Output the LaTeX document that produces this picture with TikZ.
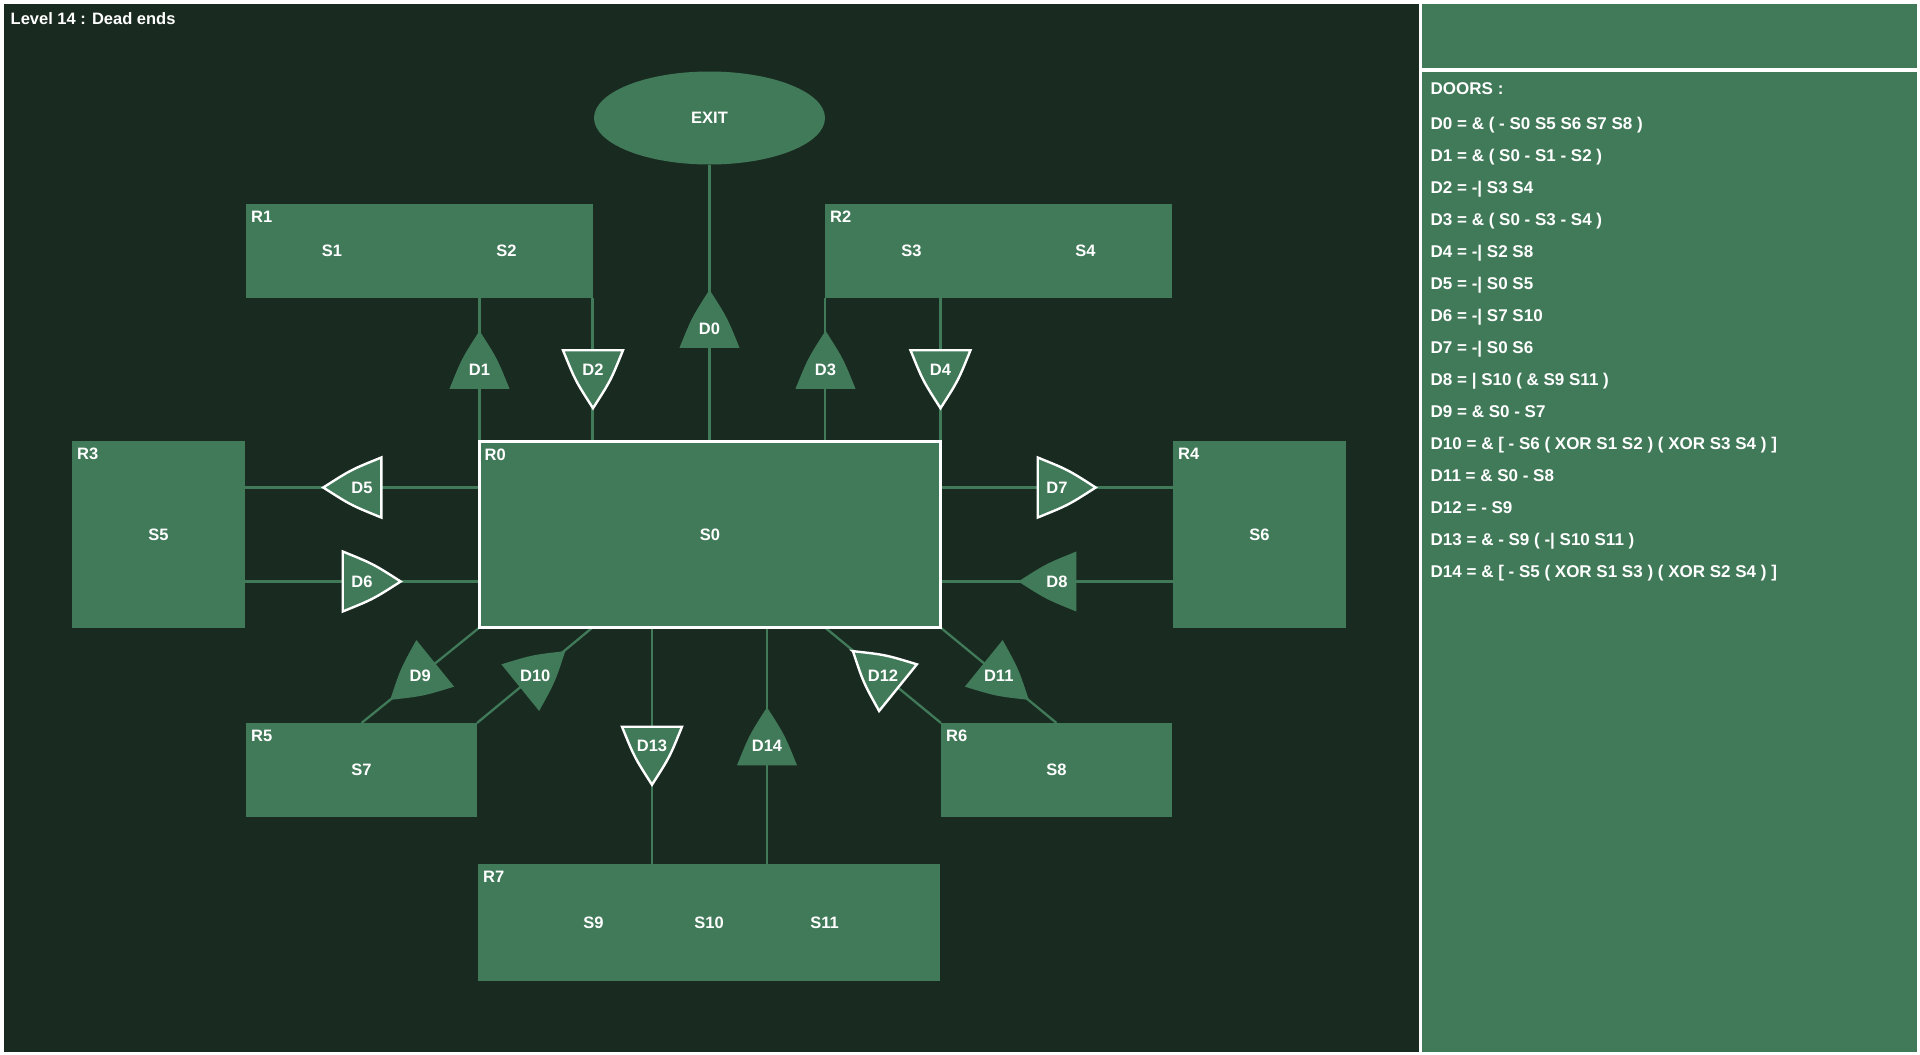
\documentclass[tikz,border=0pt]{standalone}
\usepackage{fontspec}
\setmainfont{Liberation Sans}
\usetikzlibrary{shapes.geometric}

\definecolor{bgdark}{RGB}{25,43,33}
\definecolor{roomgreen}{RGB}{65,122,89}

\tikzset{
	room/.style={fill=roomgreen, inner sep=0pt, outer sep=0pt},
	wire/.style={draw=roomgreen, line width=2.3pt},
	txt/.style={text=white, inner sep=0pt, font=\fontsize{16.5}{19}\selectfont\bfseries},
	paneltxt/.style={text=white, inner sep=0pt, anchor=base west, font=\fontsize{17}{20}\selectfont\bfseries},
	doorshut/.style={fill=roomgreen},
	dooropen/.style={fill=roomgreen, draw=white, line width=2.4pt},
	doorshape/.pic={
		\path[pic actions] (38.7,0) .. controls (11.1,17.7) .. (-19.3,30) -- (-19.3,-30)
			.. controls (11.1,-17.7) .. cycle;
	}
}

\begin{document}
\begin{tikzpicture}[x=1pt, y=-1pt]
			\useasboundingbox (0,0) rectangle (1920,1055);
			\fill[white] (0,0) rectangle (1920,1055);
			\fill[bgdark] (4,4) rectangle (1418.5,1051.5);
			\fill[roomgreen] (1422,4) rectangle (1916.5,68.3);
			\fill[roomgreen] (1422,71.5) rectangle (1916.5,1051.5);

			\node[txt, anchor=base west] (title) at (10.5,24.2) {Level 14 : Dead ends};

			% rooms
			\node[room, txt, ellipse, minimum width=231pt, minimum height=93pt] (EXIT) at (709.5,118) {EXIT};
			\node[room, minimum width=461pt, minimum height=186pt] (R0) at (710,534.5) {};
			\node[room, minimum width=346.5pt, minimum height=94pt] (R1) at (419.25,251) {};
			\node[room, minimum width=347pt, minimum height=94pt] (R2) at (998.5,251) {};
			\node[room, minimum width=173pt, minimum height=187pt] (R3) at (158.5,534.5) {};
			\node[room, minimum width=173pt, minimum height=187pt] (R4) at (1259.5,534.5) {};
			\node[room, minimum width=231pt, minimum height=94pt] (R5) at (361.5,770) {};
			\node[room, minimum width=231pt, minimum height=94pt] (R6) at (1056.5,770) {};
			\node[room, minimum width=462pt, minimum height=117pt] (R7) at (709,922.5) {};

			\foreach \r in {0,...,7}
				\node[txt, anchor=base west] (tagR\r) at ([xshift=5pt, yshift=-18.5pt]R\r.north west) {R\r};

			% sensors
			\node[txt] (S0) at (R0) {S0};
			\node[txt] (S1) at (332,251) {S1};
			\node[txt] (S2) at (506.5,251) {S2};
			\node[txt] (S3) at (911.5,251) {S3};
			\node[txt] (S4) at (1085.5,251) {S4};
			\node[txt] (S5) at (R3) {S5};
			\node[txt] (S6) at (R4) {S6};
			\node[txt] (S7) at (R5) {S7};
			\node[txt] (S8) at (R6) {S8};
			\node[txt] (S9) at (593.5,922.5) {S9};
			\node[txt] (S10) at (709,922.5) {S10};
			\node[txt] (S11) at (824.5,922.5) {S11};

			% door places
			\foreach \n/\x/\y in {0/709.5/328.5, 1/479.5/369.5, 2/593/369.5, 3/825.5/369.5, 4/940.5/369.5,
				5/362/487.5, 6/362/581.5, 7/1057/487.5, 8/1057/581.5,
				9/420.25/675.5, 10/535.25/675.5, 11/998.75/675.5, 12/883/675.5,
				13/652/746, 14/767/746}
				\coordinate (d\n) at (\x,\y);

			% corridors
			\draw[wire] (EXIT.south) -- (EXIT.south |- R0.north);
			\draw[wire] (R1.south -| R0.north west) -- (R0.north west);
			\draw[wire] (R1.south east) -- (R1.south east |- R0.north);
			\draw[wire] (R2.south west) -- (R2.south west |- R0.north);
			\draw[wire] (R0.north east |- R2.south) -- (R0.north east);
			\draw[wire] (R3.east |- d5) -- (R0.west |- d5);
			\draw[wire] (R3.east |- d6) -- (R0.west |- d6);
			\draw[wire] (R0.east |- d7) -- (R4.west |- d7);
			\draw[wire] (R0.east |- d8) -- (R4.west |- d8);
			\draw[wire] (R0.south west) -- (R5.north);
			\draw[wire] (R1.south east |- R0.south) -- (R5.north east);
			\draw[wire] (R0.south east) -- (R6.north);
			\draw[wire] (R2.south west |- R0.south) -- (R6.north west);
			\draw[wire] (R0.south -| d13) -- (R7.north -| d13);
			\draw[wire] (R0.south -| d14) -- (R7.north -| d14);

			\draw[white, line width=3pt] (R0.north west) rectangle (R0.south east);

			% doors
			\foreach \n/\a/\s in {0/90/shut, 1/90/shut, 2/-90/open, 3/90/shut, 4/-90/open,
				5/180/open, 6/0/open, 7/0/open, 8/180/shut,
				9/219/shut, 10/39/shut, 11/-39/shut, 12/141/open,
				13/-90/open, 14/90/shut}
			{
				\pic[door\s, rotate=\a] at (d\n) {doorshape};
				\node[txt] (D\n) at (d\n) {D\n};
			}

			% door rules
			\node[paneltxt] (doors) at (1430.5,94.5) {DOORS :};
			\foreach \txt [count=\i from 0] in {
				{D0 = \& ( - S0 S5 S6 S7 S8 )},
				{D1 = \& ( S0 - S1 - S2 )},
				{D2 = -| S3 S4},
				{D3 = \& ( S0 - S3 - S4 )},
				{D4 = -| S2 S8},
				{D5 = -| S0 S5},
				{D6 = -| S7 S10},
				{D7 = -| S0 S6},
				{D8 = | S10 ( \& S9 S11 )},
				{D9 = \& S0 - S7},
				{D10 = \& [ - S6 ( XOR S1 S2 ) ( XOR S3 S4 ) ]},
				{D11 = \& S0 - S8},
				{D12 = - S9},
				{D13 = \& - S9 ( -| S10 S11 )},
				{D14 = \& [ - S5 ( XOR S1 S3 ) ( XOR S2 S4 ) ]}}
				\node[paneltxt] (rule\i) at (1430.5,{129.7+32*\i}) {\txt};
\end{tikzpicture}
\end{document}
